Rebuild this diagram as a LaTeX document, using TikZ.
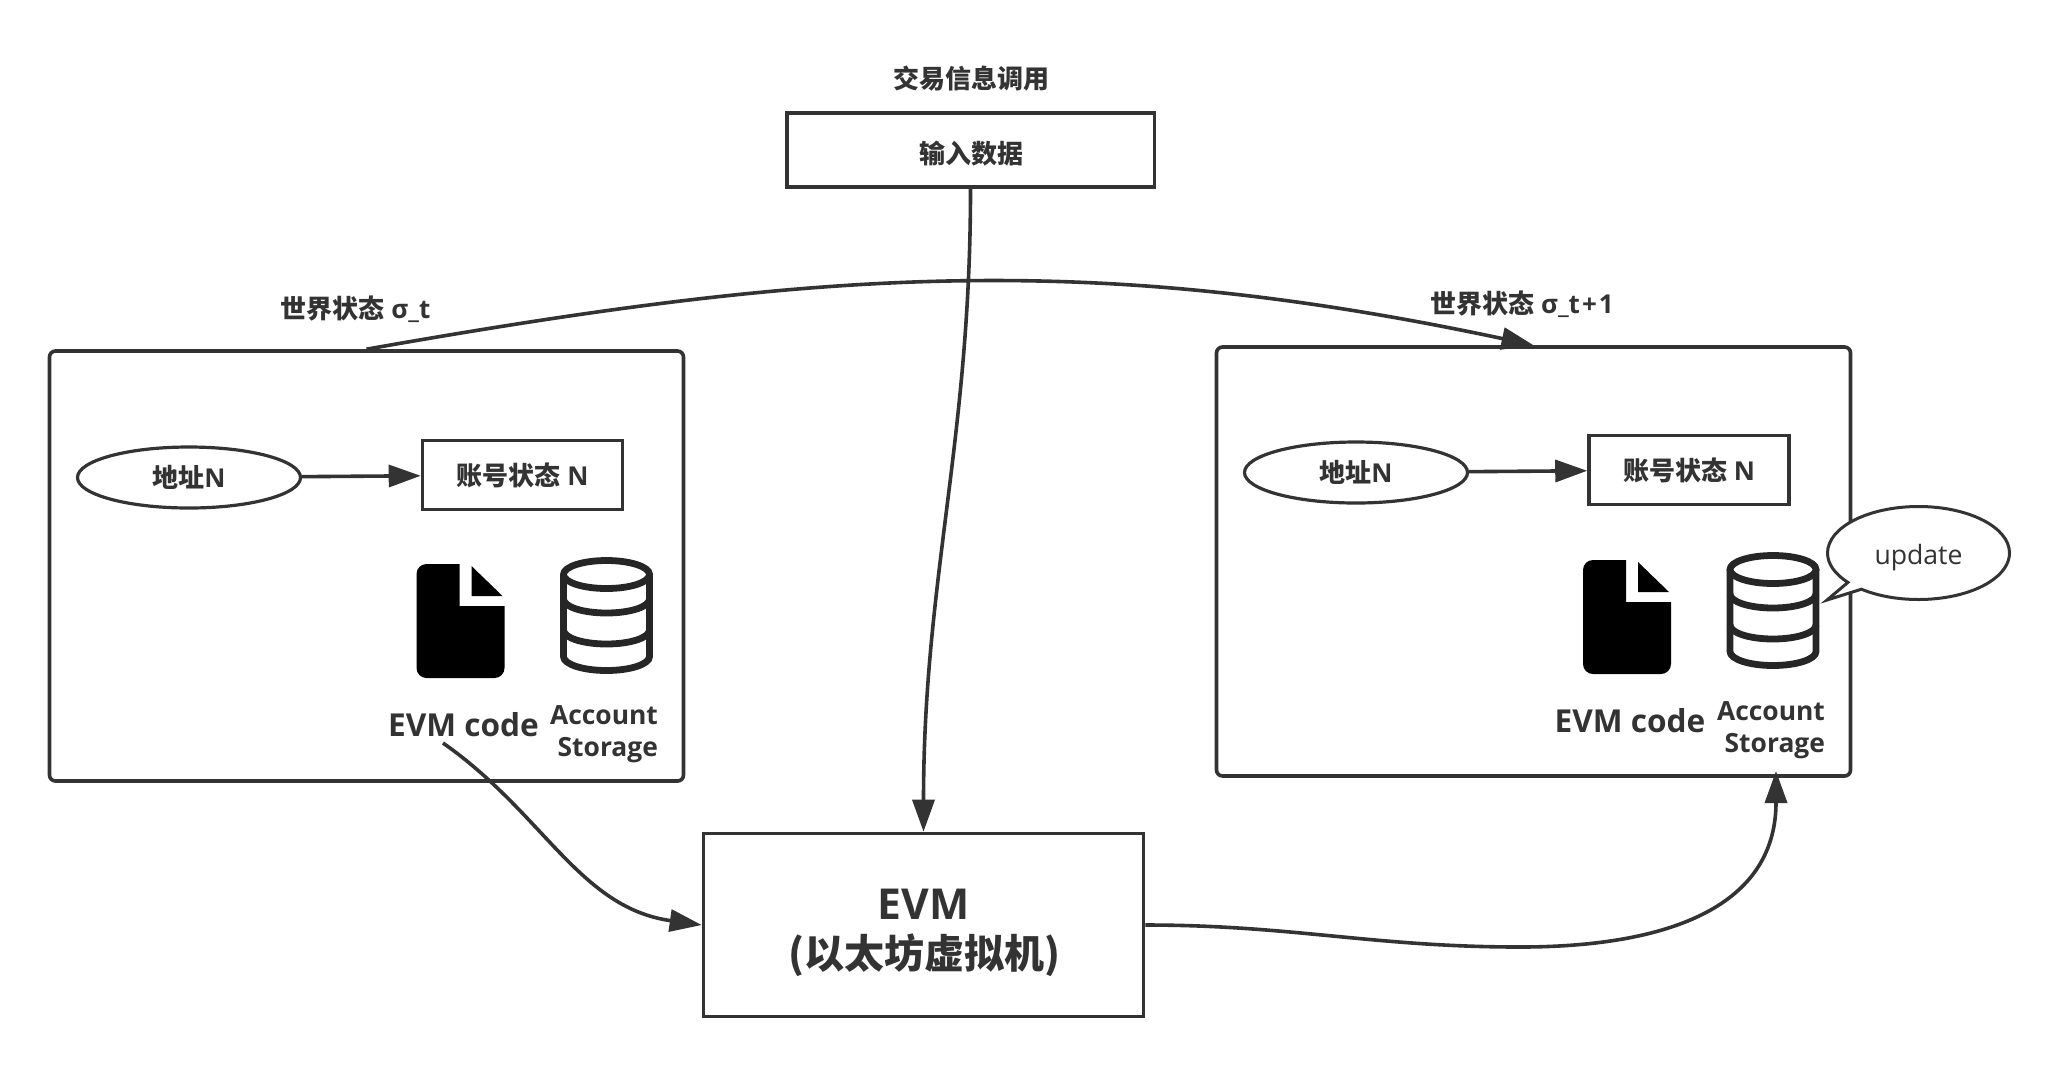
\documentclass[tikz,border=0pt]{standalone}
\usepackage{fontspec}
\setmainfont{Open Sans}
\newfontfamily\cjk{Noto Sans CJK SC}
\usetikzlibrary{arrows.meta,shapes.geometric,shapes.callouts}
\definecolor{ink}{HTML}{333333}
\tikzset{
  txt/.style={text=ink,font=\bfseries\fontsize{13}{16}\selectfont,inner sep=0pt,align=center},
  codetxt/.style={txt,font=\bfseries\fontsize{15.8}{19}\selectfont},
  storetxt/.style={txt,align=right,font=\bfseries\fontsize{13.2}{16}\selectfont},
  plainbox/.style={draw=ink,line width=1.8pt,txt,inner sep=0pt},
  statebox/.style={plainbox,rounded corners=3pt,minimum width=317pt},
  addrnode/.style={draw=ink,line width=1.6pt,fill=white,ellipse,txt,minimum width=111.5pt,minimum height=30.5pt},
  acctnode/.style={plainbox,minimum width=100pt,minimum height=34.5pt},
  flow/.style={draw=ink,line width=1.8pt,-{Triangle[length=16pt,width=11pt]}},
  docicon/.pic={
    \fill[black] (43,0) [rounded corners=5pt] -- (0,0) -- (0,114) -- (88,114) [sharp corners] -- (88,42) -- (43,42) -- cycle;
    \fill[black] (55,2) -- (55,32) -- (86,32) -- cycle;
  },
  dbicon/.pic={
    \draw[black!85,line width=3.4pt] (0,17.5) ellipse [x radius=43,y radius=14];
    \draw[black!85,line width=3.4pt] (-43,17.5) -- (-43,99.5) arc [start angle=180,end angle=0,x radius=43,y radius=14] -- (43,17.5);
    \draw[black!85,line width=3.4pt] (-43,42) arc [start angle=180,end angle=0,x radius=43,y radius=14];
    \draw[black!85,line width=3.4pt] (-43,73) arc [start angle=180,end angle=0,x radius=43,y radius=14];
  },
}
\begin{document}
\begin{tikzpicture}[x=0.5pt,y=-0.5pt]
\useasboundingbox (0,0) rectangle (2060,1083);

\node[txt] (calltitle) at (971,79) {\cjk 交易信息调用};
\node[plainbox,minimum width=183.8pt,minimum height=37pt] (input) at (970.5,150) {};
\node[txt] (inputtxt) at (971,154) {\cjk 输入数据};

\node[statebox,minimum height=215pt] (stateL) at (366.5,566) {};
\node[statebox,minimum height=214.5pt] (stateR) at (1533.5,561.5) {};
\node[txt] (worldL) at (355.5,309) {{\cjk 世界状态} σ\_t};
\node[txt] (worldR) at (1522,304) {{\cjk 世界状态} σ\_t\kern1pt+\kern1pt1};

\node[addrnode] (addrL) at (189,477.5) {{\cjk 地址}N};
\node[acctnode] (acctL) at (522.5,475) {{\cjk 账号状态} N};
\node[addrnode] (addrR) at (1356,472.5) {{\cjk 地址}N};
\node[acctnode] (acctR) at (1689,470) {{\cjk 账号状态} N};

\pic at (416.5,564) {docicon};
\pic at (606.5,557) {dbicon};
\pic at (1583,560) {docicon};
\pic at (1773,552) {dbicon};

\node[codetxt] (codeL) at (463.5,725) {EVM code};
\node[storetxt] (storeL) at (604,734) {Account\\Storage};
\node[codetxt] (codeR) at (1630,721) {EVM code};
\node[storetxt] (storeR) at (1771,730) {Account\\Storage};

\node[plainbox,minimum width=220pt,minimum height=91.5pt] (evm) at (923.5,925) {};
\node[txt,font=\bfseries\fontsize{21.3}{25.5}\selectfont] (evmtxt) at (923.5,904) {EVM};
\node[txt,font=\bfseries\fontsize{20}{25}\selectfont] (evmsub) at (924,955) {\cjk (以太坊虚拟机)};

\node[draw=ink,line width=1.5pt,fill=white,ellipse callout,callout absolute pointer={(1827,600)},callout pointer arc=12,minimum width=91pt,minimum height=46.5pt,inner sep=0pt] (update) at (1918.5,553) {};
\node[text=ink,inner sep=0pt,font=\fontsize{13.3}{16}\selectfont] (updatetxt) at (1918.5,558) {update};

\coordinate (codeOut) at (443,743);
\coordinate (storeIn) at (1776,771);
\coordinate (evmMid) at (1520,947);

\draw[flow] (addrL) -- (acctL);
\draw[flow] (addrR) -- (acctR);
\draw[flow] (stateL.north) to [out=10,in=168] (stateR.north);
\draw[flow] (input.south) to [out=-90,in=90] (evm.north);
\draw[flow] (codeOut) to [out=-35,in=172] (evm.west);
\draw[flow] (evm.east) to [out=0,in=180] (evmMid) to [out=0,in=-90,looseness=1.15] (storeIn);
\end{tikzpicture}
\end{document}
